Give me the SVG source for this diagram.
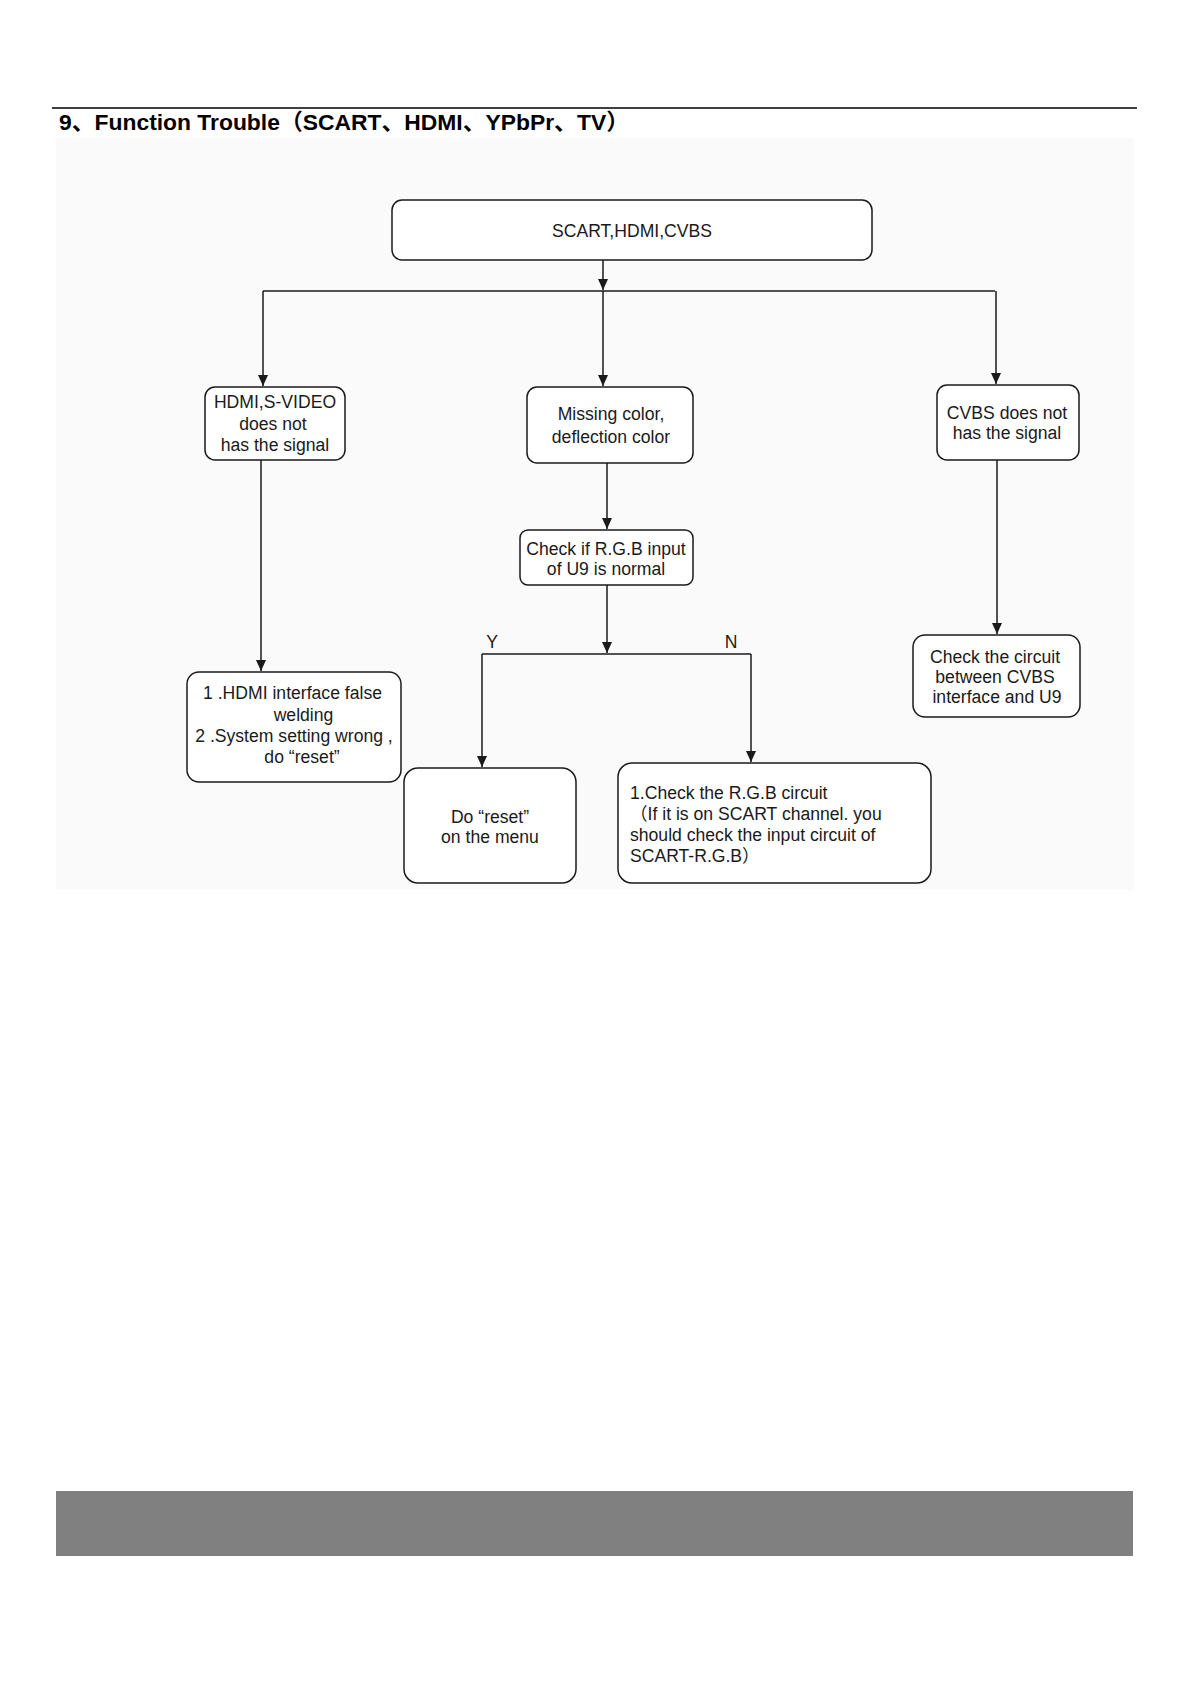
<svg xmlns="http://www.w3.org/2000/svg" width="1191" height="1685" viewBox="0 0 1191 1685">
<style>
.box{fill:#ffffff;stroke:#1a1a1a;stroke-width:1.5}
.t{font-family:"Liberation Sans",Arial,sans-serif;font-size:17.6px;fill:#1a1a1a;text-anchor:middle}
.tl{font-family:"Liberation Sans",Arial,sans-serif;font-size:17.6px;fill:#1a1a1a}
.c{fill:none;stroke:#1a1a1a;stroke-width:1.5}
</style>
<defs>
<marker id="arr" markerUnits="userSpaceOnUse" markerWidth="11" markerHeight="10" refX="11" refY="5" orient="auto" viewBox="0 0 11 10">
<path d="M0,0 L11,5 L0,10 Z" fill="#1a1a1a"/>
</marker>
</defs>
<rect x="0" y="0" width="1191" height="1685" fill="#ffffff"/>
<rect x="56" y="138" width="1078" height="752" fill="#fafafa"/>
<line x1="52" y1="108" x2="1137" y2="108" stroke="#000" stroke-width="1.5"/>
<text x="59" y="130" font-family="'Liberation Sans','Noto Sans CJK SC',sans-serif" font-size="22.5" font-weight="bold" fill="#000" textLength="570" lengthAdjust="spacingAndGlyphs">9、Function Trouble（SCART、HDMI、YPbPr、TV）</text>

<g id="connectors">
<path class="c" d="M603,260 V290" marker-end="url(#arr)"/>
<path class="c" d="M263,291 H995"/>
<path class="c" d="M263,291 V386" marker-end="url(#arr)"/>
<path class="c" d="M603,291 V386" marker-end="url(#arr)"/>
<path class="c" d="M996,291 V384" marker-end="url(#arr)"/>
<path class="c" d="M607,463 V529" marker-end="url(#arr)"/>
<path class="c" d="M607,585 V653" marker-end="url(#arr)"/>
<path class="c" d="M482,654 H751"/>
<path class="c" d="M482,654 V767" marker-end="url(#arr)"/>
<path class="c" d="M751,654 V762" marker-end="url(#arr)"/>
<path class="c" d="M261,460 V671" marker-end="url(#arr)"/>
<path class="c" d="M997,460 V634" marker-end="url(#arr)"/>
<text class="t" x="492" y="648">Y</text>
<text class="t" x="731" y="648">N</text>
</g>

<g id="n-scart">
<rect class="box" x="392" y="200" width="480" height="60" rx="10"/>
<text class="t" x="632" y="237">SCART,HDMI,CVBS</text>
</g>
<g id="n-hdmi">
<rect class="box" x="205" y="387" width="140" height="73" rx="10"/>
<text class="t" x="275" y="408">HDMI,S-VIDEO</text>
<text class="t" x="273" y="430">does not</text>
<text class="t" x="275" y="451">has the signal</text>
</g>
<g id="n-missing">
<rect class="box" x="527" y="387" width="166" height="76" rx="10"/>
<text class="t" x="611" y="420">Missing color,</text>
<text class="t" x="611" y="443">deflection color</text>
</g>
<g id="n-cvbs">
<rect class="box" x="937" y="385" width="142" height="75" rx="10"/>
<text class="t" x="1007" y="419">CVBS does not</text>
<text class="t" x="1007" y="439">has the signal</text>
</g>
<g id="n-check">
<rect class="box" x="520" y="530" width="173" height="55" rx="8"/>
<text class="t" x="606" y="555">Check if R.G.B input</text>
<text class="t" x="606" y="575">of U9 is normal</text>
</g>
<g id="n-reset">
<rect class="box" x="404" y="768" width="172" height="115" rx="14"/>
<text class="t" x="490" y="823">Do “reset”</text>
<text class="t" x="490" y="843">on the menu</text>
</g>
<g id="n-rgb">
<rect class="box" x="618" y="763" width="313" height="120" rx="14"/>
<text class="tl" x="630" y="799">1.Check the R.G.B circuit</text>
<text class="tl" x="630" y="820"><tspan font-family="'Liberation Sans','Noto Sans CJK SC',sans-serif">（</tspan>If it is on SCART channel. you</text>
<text class="tl" x="630" y="841">should check the input circuit of</text>
<text class="tl" x="630" y="862">SCART-R.G.B<tspan font-family="'Liberation Sans','Noto Sans CJK SC',sans-serif">）</tspan></text>
</g>
<g id="n-hdmi-fix">
<rect class="box" x="187" y="672" width="214" height="110" rx="12"/>
<text class="t" x="292.5" y="699">1 .HDMI interface false</text>
<text class="t" x="303.5" y="721">welding</text>
<text class="t" x="294" y="742">2 .System setting wrong ,</text>
<text class="t" x="302" y="763">do “reset”</text>
</g>
<g id="n-cvbs-fix">
<rect class="box" x="913" y="635" width="167" height="82" rx="12"/>
<text class="t" x="995" y="663">Check the circuit</text>
<text class="t" x="995" y="683">between CVBS</text>
<text class="t" x="997" y="703">interface and U9</text>
</g>
<rect x="56" y="1491" width="1077" height="65" fill="#808080"/>
</svg>
